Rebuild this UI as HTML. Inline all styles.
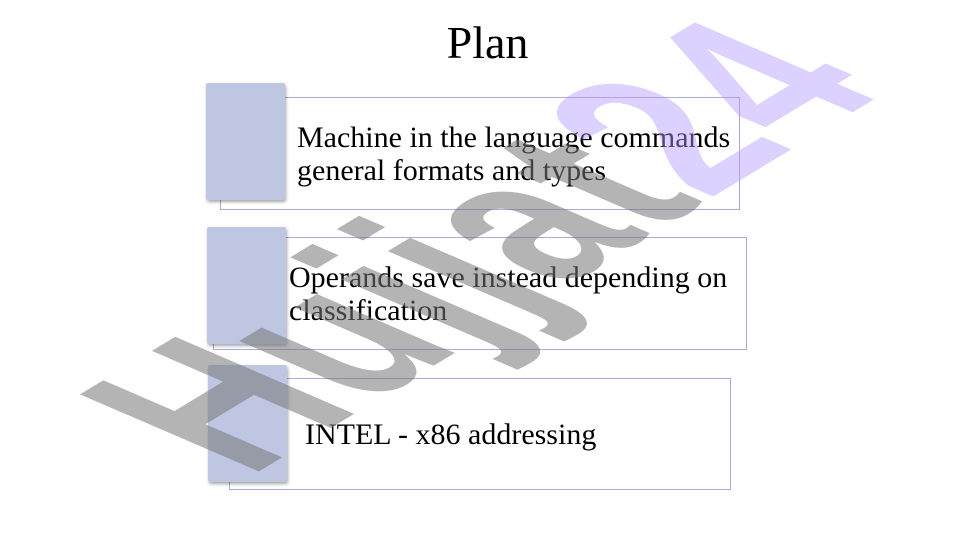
<!DOCTYPE html>
<html><head><style>
body{margin:0;width:961px;height:540px;background:#fff;position:relative;overflow:hidden;font-family:"Liberation Serif",serif;}
.sq{position:absolute;width:79px;height:117px;background:#bfc6e2;box-shadow:1px 2px 3px rgba(0,0,0,.35);border-radius:2px}
.bx{position:absolute;border:1px solid #a9acd6;background:#fff}
.t{position:absolute;font-size:30px;line-height:33px;color:#000;white-space:nowrap}
</style></head><body>
<div style="position:absolute;left:0;width:975px;top:16px;text-align:center;font-size:46px">Plan</div>
<div class="bx" style="left:220px;top:97px;width:518px;height:111px"></div>
<div class="sq" style="left:206px;top:83px"></div>
<div class="bx" style="left:213px;top:237px;width:532px;height:111px"></div>
<div class="sq" style="left:207px;top:227px"></div>
<div class="bx" style="left:229px;top:378px;width:500px;height:110px"></div>
<div class="sq" style="left:208px;top:365px"></div>
<div class="t" style="left:297px;top:121px">Machine in the language commands<br>general formats and types</div>
<div class="t" style="left:289px;top:261px">Operands save instead depending on<br>classification</div>
<div class="t" style="left:305px;top:418px">INTEL - x86 addressing</div>
<svg width="961" height="540" style="position:absolute;left:0;top:0">
<text transform="matrix(0.81,-0.49,1.3,0.56,248,478)" font-family="Liberation Sans" font-weight="bold" font-size="200" letter-spacing="2"><tspan fill="#777" fill-opacity="0.55">Hujjat</tspan><tspan fill="#b399ff" fill-opacity="0.45">24</tspan></text>
</svg>
</body></html>
